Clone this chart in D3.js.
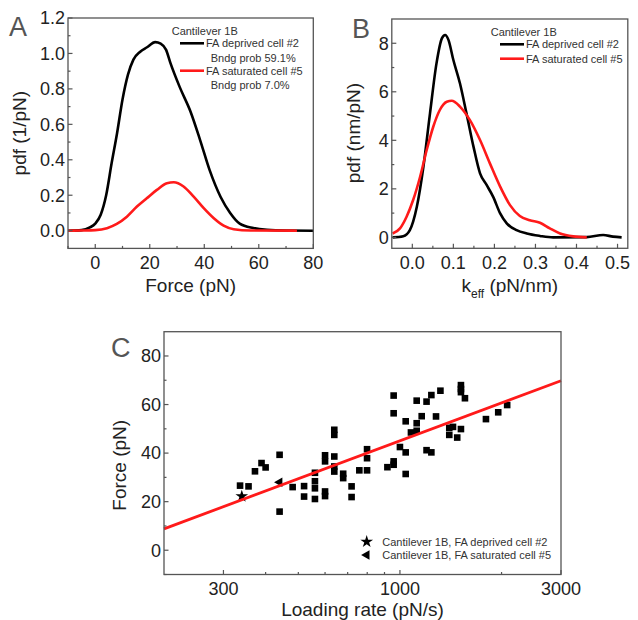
<!DOCTYPE html>
<html>
<head>
<meta charset="utf-8">
<script src="https://cdn.jsdelivr.net/npm/d3@7"></script>
<style>
  body { margin: 0; background: #fff; }
  svg { display: block; font-family: "Liberation Sans", Arial, sans-serif; }
</style>
</head>
<body>
<div id="chart"></div>
<script>
// Panel A: force pdf
const forceX = [-10, -5, -2, 0, 2, 4, 6, 8, 10, 12, 14, 16.5, 19, 22, 24, 26, 27.5, 31, 35, 38.5, 42, 46, 49.5, 53, 58, 63, 70, 80];
const forcePdfDeprived = [0, 0.003, 0.018, 0.04, 0.09, 0.2, 0.38, 0.55, 0.74, 0.88, 0.965, 1.01, 1.035, 1.064, 1.055, 1.02, 0.95, 0.81, 0.67, 0.51, 0.34, 0.19, 0.10, 0.04, 0.015, 0.005, 0.001, 0];
const forceXSat = [-10, -5, 0, 4.3, 7.9, 11.6, 15.3, 18.9, 22.6, 26.3, 28.8, 32.4, 36.1, 39.8, 43.5, 47.1, 50.8, 57, 74];
const forcePdfSaturated = [0, 0.001, 0.003, 0.014, 0.038, 0.079, 0.136, 0.183, 0.23, 0.268, 0.273, 0.249, 0.192, 0.127, 0.07, 0.028, 0.008, 0.001, 0];

// Panel B: keff pdf
const keffX = [-0.048, -0.022, -0.006, 0.011, 0.027, 0.043, 0.059, 0.072, 0.08, 0.088, 0.1, 0.116, 0.132, 0.149, 0.165, 0.181, 0.197, 0.214, 0.23, 0.254, 0.279, 0.311, 0.343, 0.425, 0.465, 0.489, 0.51];
const keffPdfDeprived = [0, 0.05, 0.3, 1.26, 2.91, 5.1, 7.18, 8.2, 8.34, 8.14, 7.31, 6.35, 5.11, 3.74, 2.64, 2.16, 1.67, 0.99, 0.58, 0.3, 0.16, 0.06, 0, 0.01, 0.1, 0.03, 0];
const keffXSat = [-0.048, -0.03, -0.014, 0.002, 0.019, 0.035, 0.051, 0.067, 0.084, 0.096, 0.116, 0.14, 0.165, 0.189, 0.214, 0.238, 0.262, 0.286, 0.311, 0.335, 0.36, 0.392, 0.425];
const keffPdfSaturated = [0.16, 0.37, 0.85, 1.54, 2.5, 3.6, 4.56, 5.25, 5.59, 5.63, 5.39, 4.84, 4.01, 3.05, 2.09, 1.33, 0.88, 0.71, 0.6, 0.37, 0.16, 0.04, 0];

// Panel C: rupture force vs loading rate
const rate = [336, 356, 372, 389, 400, 440, 440, 481, 520, 520, 560, 560, 560, 560, 600, 600, 600, 600,
  639, 639, 639, 639, 639, 679, 679, 719, 719, 758, 799, 799, 799, 918, 958, 958, 958, 958, 1000,
  1040, 1040, 1040, 1078, 1121, 1121, 1121, 1160, 1199, 1199, 1239, 1239, 1279, 1318, 1400, 1400,
  1436, 1478, 1516, 1516, 1516, 1516, 1558, 1798, 1955, 2078];
const force = [26.6, 26.3, 32.5, 35.9, 34.1, 39.3, 15.9, 26.0, 26.4, 22.1, 31.9, 28.4, 25.5, 21.1, 39.1, 36.6, 24.2, 22.3,
  49.6, 47.5, 38.6, 34.5, 32.4, 31.5, 29.7, 26.3, 21.9, 32.9, 41.6, 37.9, 32.9, 34.2, 63.7, 56.4, 36.6, 35.2, 42.5,
  53.1, 40.3, 31.4, 48.5, 61.6, 52.3, 49.2, 55.2, 61.2, 41.2, 63.9, 40.3, 55.1, 65.7, 50.4, 47.5,
  50.8, 46.4, 49.9, 68.0, 66.4, 65.1, 62.6, 54.0, 56.8, 59.8];
const starPoint = [340, 22.2];
const trianglePoint = [440, 28.0];
const fitRate = [200, 3000];
const fitForce = [8.8, 69.8];

const frameColor = "#555";
const textColor = "#222";
const red = "#ff1a1a";

const svg = d3.select("#chart").append("svg")
  .attr("width", 638)
  .attr("height", 620);

function frame(g, w, h) {
  g.append("rect")
    .attr("width", w).attr("height", h)
    .attr("fill", "none")
    .attr("stroke", frameColor)
    .attr("stroke-width", 1.3);
}

// inward ticks with labels outside
function axisBottomIn(g, scale, h, major, minor, fmt) {
  const ax = g.append("g").attr("transform", `translate(0,${h})`);
  ax.selectAll("line.maj").data(major).join("line")
    .attr("x1", d => scale(d)).attr("x2", d => scale(d))
    .attr("y1", 0).attr("y2", -4.5)
    .attr("stroke", frameColor).attr("stroke-width", 1.2);
  ax.selectAll("line.min").data(minor).join("line")
    .attr("x1", d => scale(d)).attr("x2", d => scale(d))
    .attr("y1", 0).attr("y2", -2.5)
    .attr("stroke", frameColor).attr("stroke-width", 1.2);
  ax.selectAll("text").data(major).join("text")
    .attr("x", d => scale(d)).attr("y", 20.5)
    .attr("text-anchor", "middle")
    .attr("font-size", "18px")
    .attr("fill", textColor)
    .text(fmt);
}

function axisLeftIn(g, scale, major, minor, fmt) {
  const ax = g.append("g");
  ax.selectAll("line.maj").data(major).join("line")
    .attr("y1", d => scale(d)).attr("y2", d => scale(d))
    .attr("x1", 0).attr("x2", 4.5)
    .attr("stroke", frameColor).attr("stroke-width", 1.2);
  ax.selectAll("line.min").data(minor).join("line")
    .attr("y1", d => scale(d)).attr("y2", d => scale(d))
    .attr("x1", 0).attr("x2", 2.5)
    .attr("stroke", frameColor).attr("stroke-width", 1.2);
  ax.selectAll("text").data(major).join("text")
    .attr("x", -3).attr("y", d => scale(d) + 6.3)
    .attr("text-anchor", "end")
    .attr("font-size", "18px")
    .attr("fill", textColor)
    .text(fmt);
}

function drawCurve(g, xs, ys, x, y, color) {
  g.append("path")
    .datum(xs.map((d, i) => [d, ys[i]]))
    .attr("fill", "none")
    .attr("stroke", color)
    .attr("stroke-width", 2.6)
    .attr("stroke-linejoin", "round")
    .attr("d", d3.line().x(d => x(d[0])).y(d => y(d[1])).curve(d3.curveMonotoneX));
}

function legendRow(g, x0, y0, color, label) {
  g.append("line")
    .attr("x1", x0).attr("x2", x0 + 24)
    .attr("y1", y0).attr("y2", y0)
    .attr("stroke", color).attr("stroke-width", 2.6);
  g.append("text")
    .attr("x", x0 + 26).attr("y", y0 + 4)
    .attr("font-size", "11px").attr("fill", "#333")
    .text(label);
}

function panelLetter(x, y, t) {
  svg.append("text")
    .attr("x", x).attr("y", y)
    .attr("font-size", "27px")
    .attr("fill", "#555")
    .text(t);
}

// ---------- Panel A ----------
{
  const L = 68, T = 18, W = 313.3 - 68, H = 248.4 - 18;
  const g = svg.append("g").attr("transform", `translate(${L},${T})`);
  const x = d3.scaleLinear().domain([-10, 80]).range([0, W]);
  const y = d3.scaleLinear().domain([-0.1, 1.2]).range([H, 0]);

  drawCurve(g, forceX, forcePdfDeprived, x, y, "#000");
  drawCurve(g, forceXSat, forcePdfSaturated, x, y, red);
  frame(g, W, H);
  axisBottomIn(g, x, H, [0, 20, 40, 60, 80], [-10, 10, 30, 50, 70], d => d);
  axisLeftIn(g, y, [0, 0.2, 0.4, 0.6, 0.8, 1.0, 1.2], [0.1, 0.3, 0.5, 0.7, 0.9, 1.1], d3.format(".1f"));

  g.append("text")
    .attr("x", x(35)).attr("y", H + 44)
    .attr("text-anchor", "middle").attr("font-size", "19px").attr("fill", textColor)
    .text("Force (pN)");
  g.append("text")
    .attr("transform", `translate(${-42},${y(0.55)}) rotate(-90)`)
    .attr("text-anchor", "middle").attr("font-size", "19px").attr("fill", textColor)
    .text("pdf (1/pN)");

  g.append("text")
    .attr("x", 171.7 - L).attr("y", 34.5 - T)
    .attr("font-size", "11px").attr("fill", "#333")
    .text("Cantilever 1B");
  legendRow(g, 180 - L, 43.3 - T, "#000", "FA deprived cell #2");
  g.append("text").attr("x", 210.7 - L).attr("y", 62 - T)
    .attr("font-size", "11px").attr("fill", "#333").text("Bndg prob 59.1%");
  legendRow(g, 180 - L, 70.7 - T, red, "FA saturated cell #5");
  g.append("text").attr("x", 210.7 - L).attr("y", 89 - T)
    .attr("font-size", "11px").attr("fill", "#333").text("Bndg prob 7.0%");
}

// ---------- Panel B ----------
{
  const L = 391.8, T = 19, W = 627.8 - 391.8, H = 248.3 - 19;
  const g = svg.append("g").attr("transform", `translate(${L},${T})`);
  const x = d3.scaleLinear().domain([-0.05, 0.525]).range([0, W]);
  const y = d3.scaleLinear().domain([-0.45, 9]).range([H, 0]);

  drawCurve(g, keffX, keffPdfDeprived, x, y, "#000");
  drawCurve(g, keffXSat, keffPdfSaturated, x, y, red);
  frame(g, W, H);
  axisBottomIn(g, x, H, [0, 0.1, 0.2, 0.3, 0.4, 0.5], [0.05, 0.15, 0.25, 0.35, 0.45], d3.format(".1f"));
  axisLeftIn(g, y, [0, 2, 4, 6, 8], [1, 3, 5, 7], d => d);

  const t = g.append("text")
    .attr("x", x(0.2375)).attr("y", H + 44)
    .attr("text-anchor", "middle").attr("font-size", "19px").attr("fill", textColor);
  t.append("tspan").text("k");
  t.append("tspan").attr("font-size", "12px").attr("dy", 6).text("eff");
  t.append("tspan").attr("dy", -6).text(" (pN/nm)");

  g.append("text")
    .attr("transform", `translate(${-32},${y(4.3)}) rotate(-90)`)
    .attr("text-anchor", "middle").attr("font-size", "19px").attr("fill", textColor)
    .text("pdf (nm/pN)");

  g.append("text")
    .attr("x", 490.7 - L).attr("y", 35.5 - T)
    .attr("font-size", "11px").attr("fill", "#333")
    .text("Cantilever 1B");
  legendRow(g, 500 - L, 44.3 - T, "#000", "FA deprived cell #2");
  legendRow(g, 500 - L, 58.7 - T, red, "FA saturated cell #5");
}

// ---------- Panel C ----------
{
  const L = 164, T = 331.7, W = 561 - 164, H = 574.5 - 331.7;
  const g = svg.append("g").attr("transform", `translate(${L},${T})`);
  const x = d3.scaleLog().domain([200, 3000]).range([0, W]);
  const y = d3.scaleLinear().domain([-10, 90]).range([H, 0]);

  g.selectAll("rect.pt")
    .data(rate.map((r, i) => [r, force[i]]))
    .join("rect")
    .attr("class", "pt")
    .attr("x", d => x(d[0]) - 3.3)
    .attr("y", d => y(d[1]) - 3.3)
    .attr("width", 6.6).attr("height", 6.6)
    .attr("fill", "#000");

  g.append("path")
    .attr("transform", `translate(${x(starPoint[0])},${y(starPoint[1])})`)
    .attr("d", d3.symbol().type(d3.symbolStar).size(50)())
    .attr("fill", "#000");
  g.append("path")
    .attr("transform", `translate(${x(trianglePoint[0])},${y(trianglePoint[1])}) rotate(-90)`)
    .attr("d", d3.symbol().type(d3.symbolTriangle).size(40)())
    .attr("fill", "#000");

  g.append("line")
    .attr("x1", x(fitRate[0])).attr("y1", y(fitForce[0]))
    .attr("x2", x(fitRate[1])).attr("y2", y(fitForce[1]))
    .attr("stroke", red).attr("stroke-width", 2.8);

  frame(g, W, H);
  axisBottomIn(g, x, H, [300, 1000, 3000], [400, 500, 600, 700, 800, 900, 2000], d => d);
  axisLeftIn(g, y, [0, 20, 40, 60, 80], [-10, 10, 30, 50, 70], d => d);

  g.append("text")
    .attr("x", 362.5 - L).attr("y", 616.5 - T)
    .attr("text-anchor", "middle").attr("font-size", "19px").attr("fill", textColor)
    .text("Loading rate (pN/s)");
  g.append("text")
    .attr("transform", `translate(${-38},${y(35)}) rotate(-90)`)
    .attr("text-anchor", "middle").attr("font-size", "19px").attr("fill", textColor)
    .text("Force (pN)");

  // legend
  g.append("path")
    .attr("transform", `translate(${366.7 - L},${541.7 - T})`)
    .attr("d", d3.symbol().type(d3.symbolStar).size(50)())
    .attr("fill", "#000");
  g.append("text").attr("x", 382.3 - L).attr("y", 545.7 - T)
    .attr("font-size", "11px").attr("fill", "#333")
    .text("Cantilever 1B, FA deprived cell #2");
  g.append("path")
    .attr("transform", `translate(${366.7 - L},${555 - T}) rotate(-90)`)
    .attr("d", d3.symbol().type(d3.symbolTriangle).size(40)())
    .attr("fill", "#000");
  g.append("text").attr("x", 382.3 - L).attr("y", 559 - T)
    .attr("font-size", "11px").attr("fill", "#333")
    .text("Cantilever 1B, FA saturated cell #5");
}

panelLetter(9, 36, "A");
panelLetter(352, 38.3, "B");
panelLetter(111, 356.7, "C");
</script>
</body>
</html>
